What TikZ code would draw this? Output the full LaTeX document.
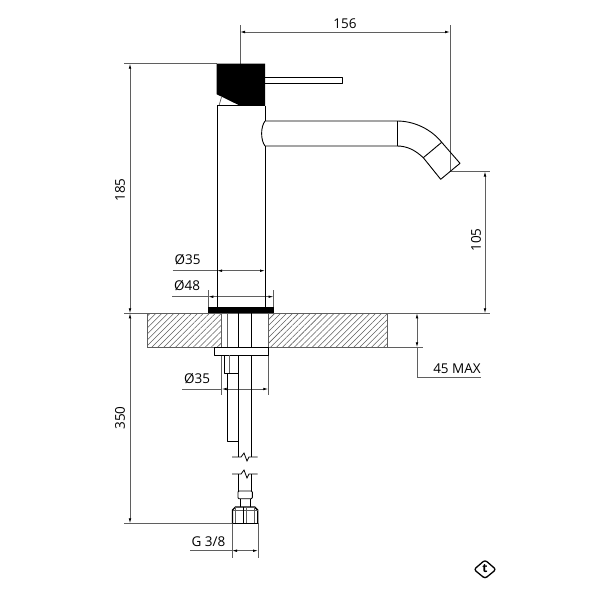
\documentclass[tikz,border=0pt]{standalone}
\usepackage{fontspec}
\setmainfont{Open Sans}
\usetikzlibrary{arrows.meta,patterns.meta}
\definecolor{dimgray}{RGB}{95,95,95}

\begin{document}
\begin{tikzpicture}[x=1pt,y=-1pt]
	\tikzstyle{part}=[line width=0.9pt,black,line join=round]
	\tikzstyle{thinpart}=[line width=0.7pt,dimgray]
	\tikzstyle{extline}=[line width=0.7pt,dimgray]
	\tikzstyle{dimline}=[line width=0.7pt,dimgray,arrows={Latex[length=5pt,width=2.6pt,black]-Latex[length=5pt,width=2.6pt,black]}]
	\tikzstyle{dimtext}=[font=\fontsize{13.5}{15}\selectfont,inner sep=0pt,text=black]
	\tikzstyle{hatch}=[pattern={Lines[angle=45,distance=4.2pt,line width=0.55pt]},pattern color=dimgray]

	\useasboundingbox (0,0) rectangle (600,600);

	% counter
	\fill [hatch] (147.3,313.3) rectangle (221,347.3);
	\fill [hatch] (268.3,313.3) rectangle (387.3,347.3);
	\draw [extline] (147.3,313.3) -- (147.3,347.3) -- (221,347.3) -- (221,313.3);
	\draw [extline] (268.3,347.3) -- (268.3,313.3);
	\draw [extline] (268.3,347.3) -- (423,347.3);
	\draw [extline] (387.3,313.3) -- (387.3,347.3);

	% extension lines
	\draw [extline] (240,25) -- (240,63.7);
	\draw [extline] (450,25) -- (450,171.5);
	\draw [extline] (450,171.5) -- (490,171.5);
	\draw [extline] (124,63.7) -- (217,63.7);
	\draw [extline] (124,313.3) -- (490,313.3);
	\draw [extline] (124,523.3) -- (232,523.3);
	\draw [extline] (208.3,290) -- (208.3,307);
	\draw [extline] (273.5,290) -- (273.5,307);
	\draw [extline] (221.7,355) -- (221.7,395);
	\draw [extline] (268.3,355) -- (268.3,395);
	\draw [extline] (232,523.3) -- (232,558);
	\draw [extline] (258,523.3) -- (258,558);

	% dimensions
	\draw [dimline] (240,32) -- (450,32);
	\node [dimtext] (width) at (345,24) {156};
	\draw [dimline] (130,63.7) -- (130,313.3);
	\node [dimtext,rotate=90] (height) at (120,190) {185};
	\draw [dimline] (130,313.3) -- (130,523.3);
	\node [dimtext,rotate=90] (depth) at (120,418) {350};
	\draw [dimline] (485,171.5) -- (485,313.3);
	\node [dimtext,rotate=90] (spout) at (476,240) {105};
	\draw [dimline] (417,313.3) -- (417,347.3);
	\draw [extline] (417,347.3) -- (417,377.7) -- (481,377.7);
	\node [dimtext] (max) at (457,369) {45 MAX};

	\draw [extline] (172.7,270.7) -- (217,270.7);
	\draw [dimline] (217,270.7) -- (265,270.7);
	\node [dimtext] (bodydia) at (187.5,260) {Ø35};
	\draw [extline] (172,296.7) -- (208.3,296.7);
	\draw [dimline] (208.3,296.7) -- (273.5,296.7);
	\node [dimtext] (flangedia) at (187,286) {Ø48};
	\draw [extline] (182,389) -- (221.7,389);
	\draw [dimline] (221.7,389) -- (268.3,389);
	\node [dimtext] (holedia) at (197,379) {Ø35};
	\draw [extline] (190,550.7) -- (232,550.7);
	\draw [dimline] (232,550.7) -- (258,550.7);
	\node [dimtext] (thread) at (208.5,541.5) {G 3/8};

	% handle and lever
	\fill [black] (216.7,63.7) -- (265,63.7) -- (265,105.7) -- (240,105.7) -- (221.7,96.7) -- (216.7,94.3) -- cycle;
	\draw [part] (265,77) -- (342.7,77) -- (342.7,83.7) -- (265,83.7);
	\draw [thinpart] (221.5,97) -- (219,105.7);

	% body
	\draw [part] (217,307) -- (217,105.7) -- (265,105.7);
	\draw [part] (265,105.7) -- (265,121);
	\draw [part] (265,146) -- (265,307);
	\fill [black] (207.7,306.7) rectangle (274,313.3);

	% spout
	\draw [part] (265,121) .. controls (260.5,127) and (260.5,140) .. (265,146);
	\draw [part] (265,121) -- (397,121) .. controls (414,121) and (431,129) .. (441.7,142.3)
		-- (460,163.3) -- (440.7,179.3) -- (423.3,157.7) .. controls (415,150) and (407,146) .. (397,146) -- (265,146);
	\draw [part] (397,121) -- (397,146);
	\draw [part] (441.7,142.3) -- (423.3,157.7);

	% fixing under the counter
	\draw [thinpart] (227.7,313.3) -- (227.7,347.3);
	\draw [part] (238.3,313.3) -- (238.3,347.3);
	\draw [part] (251.3,313.3) -- (251.3,347.3);
	\draw [part] (214.3,347.3) rectangle (268.3,355);
	\draw [part] (224,355) -- (224,373) -- (238.3,373);
	\draw [thinpart] (229,355) -- (229,373);
	\draw [part] (227.3,373) -- (227.3,441) -- (238.3,441);
	\draw [part] (238.3,355) -- (238.3,457);
	\draw [part] (251.7,355) -- (251.7,457);

	% breaks
	\foreach \breaky in {457,474} {
		\draw [line width=0.8pt,black] (232,\breaky) -- (241,\breaky) -- (244,\breaky-4) -- (247,\breaky+4) -- (249,\breaky) -- (257.7,\breaky);
	}

	% hose end
	\draw [part] (238.3,474) -- (238.3,491);
	\draw [part] (251.7,474) -- (251.7,491);
	\draw [part,rounded corners=1pt] (238,491) rectangle (252.3,498.7);
	\draw [part] (240,498.7) -- (240,507);
	\draw [part] (250.3,498.7) -- (250.3,507);
	\draw [line width=1.4pt,line join=round] (232.5,523.3) -- (232.5,510) -- (235.5,507) -- (254.7,507) -- (257.7,510) -- (257.7,523.3);
	\draw [thinpart] (232.5,510.7) -- (257.7,510.7);
	\draw [thinpart] (235.7,507) -- (235.7,523.3);
	\draw [part] (243.3,507) -- (243.3,523.3);
	\draw [thinpart] (246.7,507) -- (246.7,523.3);
	\draw [thinpart] (254.3,507) -- (254.3,523.3);
	\draw [part] (232.5,523.3) -- (257.7,523.3);

	% logo
	\draw [line width=1.3pt,rounded corners=2.5pt] (474,569.5) -- (485,560) -- (496,569.5) -- (485,578.5) -- cycle;
	\node [inner sep=0pt,font=\fontsize{12}{14}\selectfont\bfseries] (logo) at (485,569) {t};
\end{tikzpicture}
\end{document}
